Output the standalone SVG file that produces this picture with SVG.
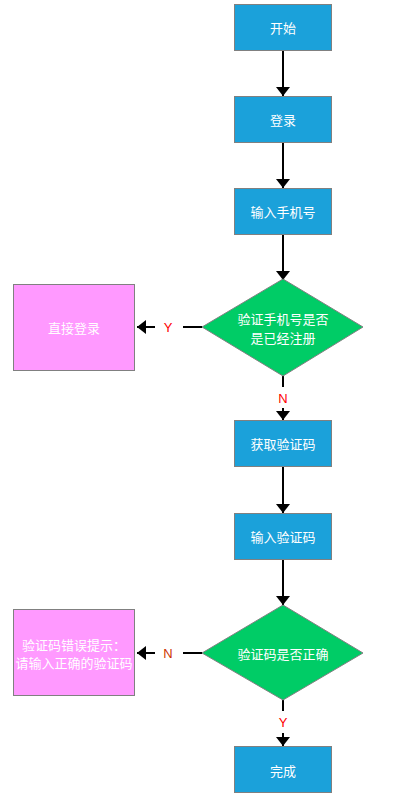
<svg xmlns="http://www.w3.org/2000/svg" width="409" height="801" viewBox="0 0 409 801">
<style>
.b{fill:#1ba1da;stroke:#808080;stroke-width:1}
.d{fill:#00cc66;stroke:#808080;stroke-width:1}
.p{fill:#ff99ff;stroke:#808080;stroke-width:1}
.t{font-family:"Noto Sans CJK SC","Liberation Sans",sans-serif;font-size:13px;fill:#fff;text-anchor:middle;dominant-baseline:central}
.l{font-family:"Liberation Sans",sans-serif;font-size:13px;fill:#ff0000;text-anchor:middle;dominant-baseline:central}
.c{stroke:#000;stroke-width:2;fill:none}
</style>
<defs>
<marker id="ah" viewBox="0 0 9 14" refX="9" refY="7" markerWidth="9" markerHeight="14" orient="auto" markerUnits="userSpaceOnUse">
<path d="M0,0 L9,7 L0,14 Z" fill="#000"/>
</marker>
</defs>
<rect width="409" height="801" fill="#fff"/>
<g id="connectors">
<path class="c" d="M283,50 V96" marker-end="url(#ah)"/>
<path class="c" d="M283,142 V188" marker-end="url(#ah)"/>
<path class="c" d="M283,234 V280" marker-end="url(#ah)"/>
<path class="c" d="M202,327 H183"/>
<path class="c" d="M155,327 H137" marker-end="url(#ah)"/>
<text class="l" x="168" y="327">Y</text>
<path class="c" d="M283,376 V387"/>
<text class="l" x="283" y="398">N</text>
<path class="c" d="M283,408 V420" marker-end="url(#ah)"/>
<path class="c" d="M283,466 V513" marker-end="url(#ah)"/>
<path class="c" d="M283,559 V605" marker-end="url(#ah)"/>
<path class="c" d="M202,653 H183"/>
<path class="c" d="M155,653 H137" marker-end="url(#ah)"/>
<text class="l" x="168" y="653" style="fill:#cc3300">N</text>
<path class="c" d="M283,700 V711"/>
<text class="l" x="283" y="722">Y</text>
<path class="c" d="M283,733 V746" marker-end="url(#ah)"/>
</g>
<g id="start"><rect class="b" x="234.5" y="4.5" width="97" height="46"/><text class="t" x="283" y="27">开始</text></g>
<g id="login"><rect class="b" x="234.5" y="96.5" width="97" height="46"/><text class="t" x="283" y="119">登录</text></g>
<g id="phone"><rect class="b" x="234.5" y="188.5" width="97" height="46"/><text class="t" x="283" y="211">输入手机号</text></g>
<g id="check1"><polygon class="d" points="283,279 363,327 283,376 202,327"/><text class="t" x="283" y="318">验证手机号是否</text><text class="t" x="283" y="337">是已经注册</text></g>
<g id="direct"><rect class="p" x="13.5" y="284.5" width="121" height="86"/><text class="t" x="74" y="327">直接登录</text></g>
<g id="getcode"><rect class="b" x="234.5" y="420.5" width="97" height="46"/><text class="t" x="283" y="443">获取验证码</text></g>
<g id="inputcode"><rect class="b" x="234.5" y="513.5" width="97" height="46"/><text class="t" x="283" y="536">输入验证码</text></g>
<g id="check2"><polygon class="d" points="283,605 363,653 283,700 202,653"/><text class="t" x="283" y="653">验证码是否正确</text></g>
<g id="error"><rect class="p" x="13.5" y="609.5" width="121" height="86"/><text class="t" x="74" y="644">验证码错误提示：</text><text class="t" x="74" y="662">请输入正确的验证码</text></g>
<g id="done"><rect class="b" x="234.5" y="746.5" width="97" height="46"/><text class="t" x="283" y="770">完成</text></g>
</svg>
